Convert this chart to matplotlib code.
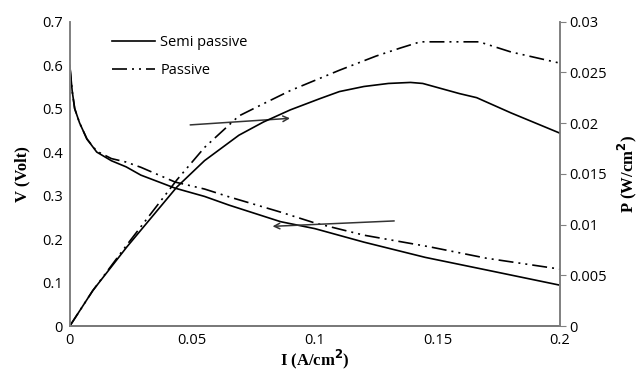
import matplotlib.pyplot as plt

# current density (A/cm2) and voltage / power readings
i_semi_v = [0, 0.001, 0.002, 0.004, 0.007, 0.011, 0.017, 0.023, 0.029, 0.043, 0.055, 0.065, 0.086, 0.1, 0.12, 0.145, 0.17, 0.2]
v_semi = [0.6, 0.54, 0.5, 0.467, 0.43, 0.40, 0.38, 0.366, 0.347, 0.317, 0.298, 0.278, 0.24, 0.224, 0.193, 0.158, 0.129, 0.094]

i_pas_v = [0, 0.001, 0.002, 0.004, 0.007, 0.011, 0.017, 0.023, 0.029, 0.043, 0.055, 0.065, 0.086, 0.1, 0.12, 0.147, 0.17, 0.2]
v_pas = [0.6, 0.54, 0.5, 0.467, 0.43, 0.402, 0.385, 0.377, 0.365, 0.331, 0.315, 0.297, 0.262, 0.237, 0.209, 0.182, 0.156, 0.131]

i_semi_p = [0, 0.0094, 0.0233, 0.0437, 0.055, 0.069, 0.079, 0.09, 0.102, 0.110, 0.12, 0.13, 0.139, 0.144, 0.159, 0.166, 0.18, 0.2]
p_semi = [0, 0.0035, 0.0078, 0.0137, 0.0163, 0.0188, 0.0201, 0.0213, 0.0224, 0.0231, 0.0236, 0.0239, 0.024, 0.0239, 0.0229, 0.0225, 0.021, 0.019]

i_pas_p = [0, 0.0094, 0.0233, 0.0437, 0.055, 0.069, 0.079, 0.09, 0.102, 0.110, 0.125, 0.135, 0.143, 0.155, 0.167, 0.18, 0.2]
p_pas = [0, 0.0035, 0.008, 0.0144, 0.0176, 0.0207, 0.0219, 0.0232, 0.0244, 0.0252, 0.0266, 0.0274, 0.028, 0.028, 0.028, 0.027, 0.0259]

x_ticks = [0, 0.05, 0.1, 0.15, 0.2]
x_labels = ["0", "0.05", "0.1", "0.15", "0.2"]
v_ticks = [0, 0.1, 0.2, 0.3, 0.4, 0.5, 0.6, 0.7]
v_labels = ["0", "0.1", "0.2", "0.3", "0.4", "0.5", "0.6", "0.7"]
p_ticks = [0, 0.005, 0.01, 0.015, 0.02, 0.025, 0.03]
p_labels = ["0", "0.005", "0.01", "0.015", "0.02", "0.025", "0.03"]

tick_font = "Open Sans"
label_font = "Liberation Serif"
axis_col = "#808080"
dashdot2 = (0, (9, 3, 1.2, 3, 1.2, 3))

fig = plt.figure(figsize=(6.4, 3.71), dpi=100)
ax = fig.add_axes([0.109, 0.121, 0.766, 0.821])
ax2 = ax.twinx()

ax.plot(i_semi_v, v_semi, color="black", lw=1.2, label="Semi passive")
ax.plot(i_pas_v, v_pas, color="black", lw=1.2, linestyle=dashdot2, label="Passive")
ax2.plot(i_semi_p, p_semi, color="black", lw=1.2)
ax2.plot(i_pas_p, p_pas, color="black", lw=1.2, linestyle=dashdot2)

ax.set_xlim(0, 0.2)
ax.set_ylim(0, 0.7)
ax2.set_ylim(0, 0.03)

ax.set_xticks(x_ticks, x_labels, fontfamily=tick_font, fontsize=10.5)
ax.set_yticks(v_ticks, v_labels, fontfamily=tick_font, fontsize=10.5)
ax2.set_yticks(p_ticks, p_labels, fontfamily=tick_font, fontsize=10.5)
ax.tick_params(axis="both", length=0, pad=5)
ax2.tick_params(axis="y", direction="out", length=4, color=axis_col, pad=3)

for a in (ax, ax2):
    a.spines["top"].set_visible(False)
    for s in ("left", "right", "bottom"):
        a.spines[s].set_color(axis_col)
        a.spines[s].set_linewidth(1.2)
ax.spines["bottom"].set_color("#404040")

ax.set_xlabel("I (A/cm$^\\mathbf{2}$)", fontfamily=label_font, fontweight="bold", fontsize=12, labelpad=0)
ax.set_ylabel("V (Volt)", fontfamily=label_font, fontweight="bold", fontsize=12, labelpad=8)
ax2.set_ylabel("P (W/cm$^\\mathbf{2}$)", fontfamily=label_font, fontweight="bold", fontsize=12, labelpad=6)

# arrows pointing to the axis each curve belongs to
ax.annotate("", xy=(0.091, 0.478), xytext=(0.048, 0.462),
            arrowprops=dict(arrowstyle="->", color="#333333", lw=1.1))
ax.annotate("", xy=(0.0816, 0.229), xytext=(0.1335, 0.242),
            arrowprops=dict(arrowstyle="->", color="#333333", lw=1.1))

leg = ax.legend(loc="upper left", bbox_to_anchor=(0.06, 1.0), frameon=False,
                prop={"family": tick_font, "size": 10.5}, handlelength=2.9,
                handletextpad=0.4, labelspacing=0.9)

fig.savefig("out.png", dpi=100)
